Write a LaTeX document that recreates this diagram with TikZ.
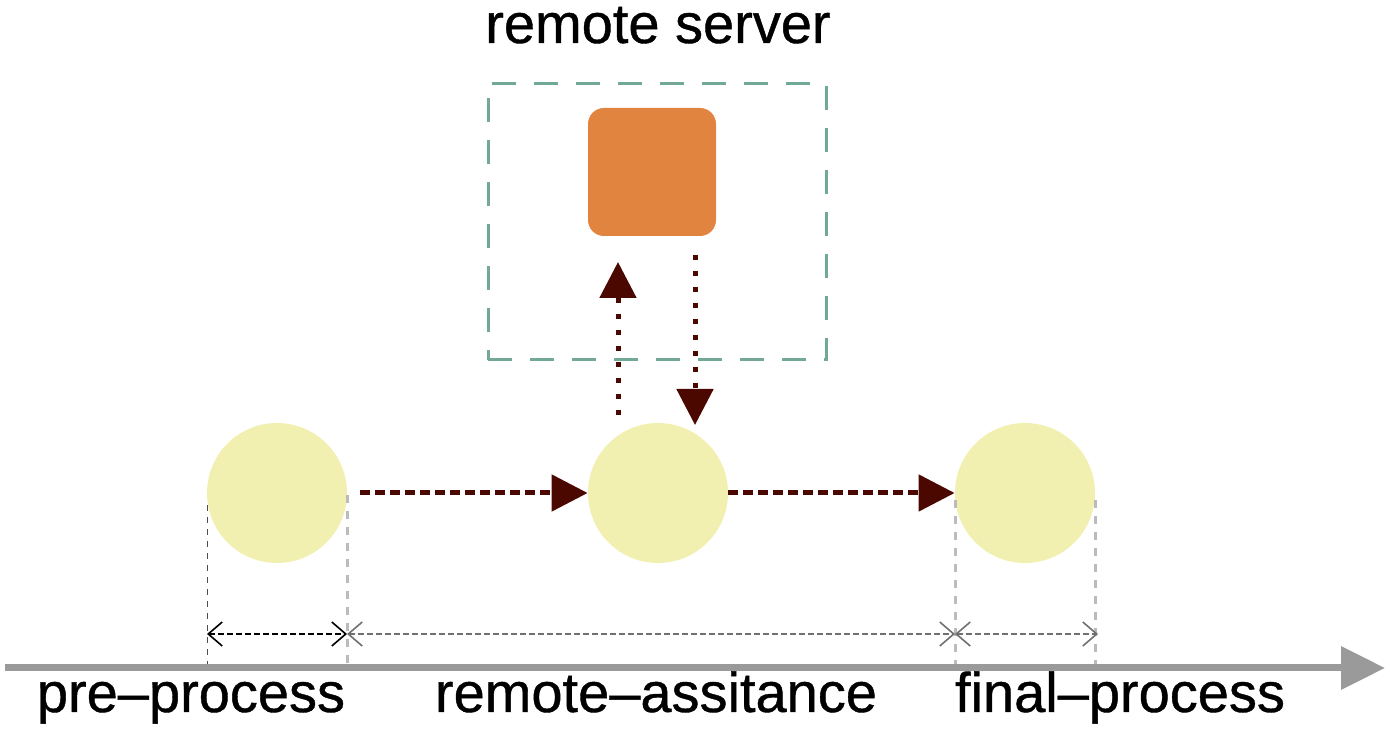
\documentclass[tikz,border=0pt]{standalone}
\usepackage{fontspec}
\setmainfont{Liberation Sans}
\newfontfamily\medfont{Liberation Sans}[FakeBold=0.7]
\usetikzlibrary{arrows.meta}
\definecolor{ball}{HTML}{F2F0B0}
\definecolor{srv}{HTML}{E0843F}
\definecolor{teal}{HTML}{72A898}
\definecolor{dred}{HTML}{4A0800}
\definecolor{axisgray}{HTML}{9A9A9A}
\definecolor{guidegray}{HTML}{BBBBBB}
\definecolor{dimgray}{HTML}{707070}
\tikzset{
  stage/.style={circle, fill=ball, minimum size=70pt, inner sep=0pt},
  server/.style={rectangle, rounded corners=8pt, fill=srv, minimum size=64pt, inner sep=0pt},
  frame/.style={rectangle, draw=teal, line width=1.5pt, dash pattern=on 12pt off 9pt, minimum width=169pt, minimum height=138pt, inner sep=0pt},
  flow/.style={draw=dred, line width=2.5pt, dash pattern=on 5pt off 2.5pt, -{Triangle[length=18pt,width=18pt]}},
  call/.style={draw=dred, line width=2.5pt, dash pattern=on 2.5pt off 5.5pt, -{Triangle[length=18pt,width=18pt]}},
  guide/.style={draw=guidegray, line width=1.5pt, dash pattern=on 4pt off 4pt},
  guidedark/.style={draw=black!70, line width=0.5pt, dash pattern=on 3pt off 3pt},
  dim/.style={line width=0.8pt, dash pattern=on 3pt off 1.5pt, {Straight Barb[length=7pt,width=12pt]}-{Straight Barb[length=7pt,width=12pt]}},
  axisline/.style={draw=axisgray, line width=3.5pt, -{Triangle[length=22pt,width=21pt]}},
  lbl/.style={font=\medfont\fontsize{28pt}{32pt}\selectfont, anchor=base, inner sep=0pt}
}
\begin{document}
\begin{tikzpicture}[x=0.5pt,y=-0.5pt]
\useasboundingbox (0,0) rectangle (1393,731);
% frame and server
\node[frame] (box) at (657,222) {};
\node[server] (srv) at (652,172) {};
\node[lbl] (title) at (658,43) {remote server};
% stages
\node[stage] (pre) at (277,493) {};
\node[stage] (mid) at (658,493) {};
\node[stage] (fin) at (1025,493) {};
% flow arrows
\draw[flow, shorten <=6.5pt] (pre.east) -- (mid.west);
\draw[flow] (mid.east) -- (fin.west);
% calls to server
\coordinate (upS) at (618,415);
\coordinate (upE) at (618,262);
\coordinate (dnS) at (695,255);
\coordinate (dnE) at (695,425);
\draw[call] (upS) -- (upE);
\draw[call] (dnS) -- (dnE);
% guides
\coordinate (g1t) at (207,505); \coordinate (g1b) at (207,665);
\coordinate (g2t) at (347,495); \coordinate (g2b) at (347,665);
\coordinate (g3t) at (955,500); \coordinate (g3b) at (955,665);
\coordinate (g4t) at (1095,500); \coordinate (g4b) at (1095,665);
\draw[guidedark] (g1t) -- (g1b);
\draw[guide] (g2t) -- (g2b);
\draw[guide] (g3t) -- (g3b);
\draw[guide] (g4t) -- (g4b);
% dimension arrows
\coordinate (d1) at (207,634);
\coordinate (d2) at (347,634);
\coordinate (d3) at (955,634);
\coordinate (d4) at (1098,634);
\draw[dim, draw=black] (d1) -- (d2);
\draw[dim, draw=dimgray] (d2) -- (d3);
\draw[dim, draw=dimgray] (d3) -- (d4);
% axis
\coordinate (a0) at (5,668);
\coordinate (a1) at (1385,668);
\draw[axisline] (a0) -- (a1);
% labels
\node[lbl] (l1) at (191,712) {pre–process};
\node[lbl] (l2) at (656,712) {remote–assitance};
\node[lbl] (l3) at (1120,712) {final–process};
\end{tikzpicture}
\end{document}
